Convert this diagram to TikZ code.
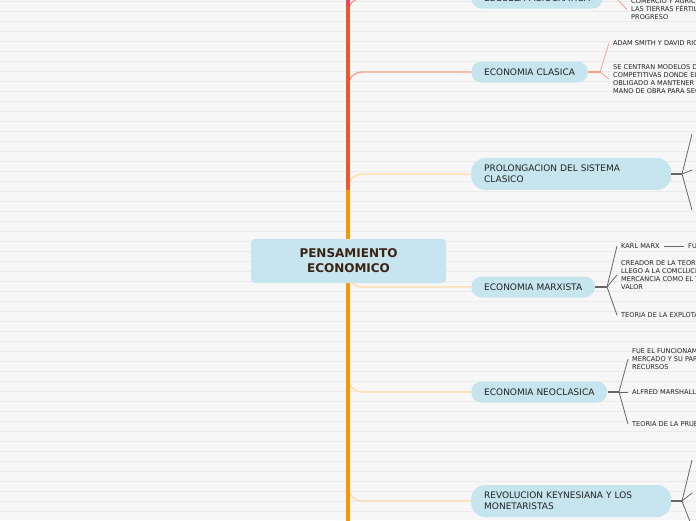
\documentclass[tikz,border=0pt]{standalone}
\usepackage{fontspec}
\setmainfont{DejaVu Sans}
\definecolor{bgc}{HTML}{F7F7F7}
\definecolor{gridc}{HTML}{EBEBEB}
\definecolor{nodec}{HTML}{C6E5EF}
\definecolor{txt}{HTML}{222222}
\definecolor{roottxt}{HTML}{3B2314}
\definecolor{trred}{HTML}{F0562B}
\definecolor{trtop}{HTML}{E8455A}
\definecolor{tror}{HTML}{FF9505}
\definecolor{bror}{HTML}{FFD9A6}
\definecolor{brcla}{HTML}{F7A287}
\definecolor{bresc}{HTML}{F39C8A}
\definecolor{subc}{HTML}{666666}
\begin{document}
\begin{tikzpicture}[x=1pt,y=-1pt,
  rootbox/.style={fill=nodec, rounded corners=4pt, minimum width=195pt, minimum height=44pt,
    align=center, text=roottxt, font=\bfseries\fontsize{12}{15}\selectfont, inner sep=0pt},
  mainbox/.style={fill=nodec, rounded corners=10.5pt, anchor=west, minimum height=21pt,
    inner xsep=13pt, inner ysep=0pt, text=txt, font=\fontsize{9}{11}\selectfont},
  widebox/.style={mainbox, text width=174pt, align=left, minimum height=32pt, rounded corners=14pt},
  subtext/.style={anchor=west, inner xsep=4pt, inner ysep=0pt, text=txt, align=left,
    font=\fontsize{6.6}{8}\selectfont},
  branch/.style={line width=1.3pt, rounded corners=14pt},
  trunk/.style={line width=4.5pt},
  subthick/.style={line width=2.5pt},
  subthin/.style={line width=0.8pt}]
\path[use as bounding box] (0,0) rectangle (696,520);
\clip (0,0) rectangle (696,520);
\fill[bgc] (0,0) rectangle (696,520);
\foreach \yy in {1,11,...,511} \draw[gridc, line width=0.8pt] (0,\yy) -- (696,\yy);

% main nodes
\node[mainbox] (esc) at (471,-2) {ESCUELA FISIOCRATICA};
\node[mainbox] (cla) at (471,72) {ECONOMIA CLASICA};
\node[widebox] (pro) at (471,174) {PROLONGACION DEL SISTEMA\\CLASICO};
\node[mainbox] (mar) at (471,287) {ECONOMIA MARXISTA};
\node[mainbox] (neo) at (471,392) {ECONOMIA NEOCLASICA};
\node[widebox] (key) at (471,501) {REVOLUCION KEYNESIANA Y LOS\\MONETARISTAS};

% trunk turn points
\coordinate (tesc) at (348,14);
\coordinate (tcla) at (348,88);
\coordinate (tpro) at (348,192);
\coordinate (tmar) at (348,272);
\coordinate (tneo) at (348,378);
\coordinate (tkey) at (348,486);
\coordinate (ttop) at (348,-3);
\coordinate (tmid) at (348,190);
\coordinate (tbot) at (348,524);
\coordinate (tpink) at (348,6);

\draw[branch, bresc] (tesc) |- (esc.west);
\draw[branch, brcla] (tcla) |- (cla.west);
\draw[branch, bror] (tpro) |- (pro.west);
\draw[branch, bror] (tmar) |- (mar.west);
\draw[branch, bror] (tneo) |- (neo.west);
\draw[branch, bror] (tkey) |- (key.west);

\draw[trunk, trred] (tmid) -- (ttop);
\draw[trunk, trtop] (tpink) -- (ttop);
\draw[trunk, tror] (tmid) -- (tbot);

\node[rootbox] (root) at (348.5,261) {PENSAMIENTO\\ECONOMICO};

% ESCUELA FISIOCRATICA children
\coordinate (jesc) at (616,-2);
\node[subtext] (e1) at (627,9.5) {COMERCIO Y AGRICULTURA\\LAS TIERRAS FÉRTILES\\PROGRESO};
\draw[subthick, bresc] (esc.east) -- (jesc);
\draw[subthin, bresc] (jesc) -- (e1.west);

% ECONOMIA CLASICA children
\coordinate (jcla) at (600,72);
\node[subtext] (c1) at (609,43) {ADAM SMITH Y DAVID RICARDO};
\node[subtext] (c2) at (609,79) {SE CENTRAN MODELOS DE ECONOMIAS\\COMPETITIVAS DONDE EL ESTADO\\OBLIGADO A MANTENER EL ORDEN\\MANO DE OBRA PARA SEGUIR};
\draw[subthick, brcla] (cla.east) -- (jcla);
\draw[subthin, brcla] (jcla) -- (c1.west);
\draw[subthin, brcla] (jcla) -- (c2.west);

% PROLONGACION children
\coordinate (jpro) at (682,174);
\coordinate (p1) at (692,134);
\coordinate (p2) at (692,170);
\coordinate (p3) at (692,210);
\draw[subthick, subc] (pro.east) -- (jpro);
\draw[subthin, subc] (jpro) -- (p1);
\draw[subthin, subc] (jpro) -- (p2);
\draw[subthin, subc] (jpro) -- (p3);

% ECONOMIA MARXISTA children
\coordinate (jmar) at (607,287);
\node[subtext] (m1) at (617,246) {KARL MARX};
\node[subtext] (m1b) at (684,246) {FUE};
\node[subtext] (m2) at (617,275) {CREADOR DE LA TEORIA DEL VALOR\\LLEGO A LA COMCLUCION DE LA\\MERCANCIA COMO EL TRABAJO\\VALOR};
\node[subtext] (m3) at (617,315) {TEORIA DE LA EXPLOTACION};
\draw[subthick, subc] (mar.east) -- (jmar);
\draw[subthin, subc] (jmar) -- (m1.west);
\draw[subthin, subc] (jmar) -- (m2.west);
\draw[subthin, subc] (jmar) -- (m3.west);
\draw[subthin, subc] (m1.east) -- (m1b.west);

% ECONOMIA NEOCLASICA children
\coordinate (jneo) at (619,392);
\node[subtext] (n1) at (628,359) {FUE EL FUNCIONAMIENTO DEL\\MERCADO Y SU PARTICIPACION\\RECURSOS};
\node[subtext] (n2) at (628,392) {ALFRED MARSHALL};
\node[subtext] (n3) at (628,424) {TEORIA DE LA PRUEBA};
\draw[subthick, subc] (neo.east) -- (jneo);
\draw[subthin, subc] (jneo) -- (n1.west);
\draw[subthin, subc] (jneo) -- (n2.west);
\draw[subthin, subc] (jneo) -- (n3.west);

% REVOLUCION KEYNESIANA children
\coordinate (jkey) at (682,501);
\coordinate (k1) at (692,460);
\coordinate (k2) at (692,493);
\coordinate (k3) at (694,532);
\draw[subthick, subc] (key.east) -- (jkey);
\draw[subthin, subc] (jkey) -- (k1);
\draw[subthin, subc] (jkey) -- (k2);
\draw[subthin, subc] (jkey) -- (k3);
\end{tikzpicture}
\end{document}
